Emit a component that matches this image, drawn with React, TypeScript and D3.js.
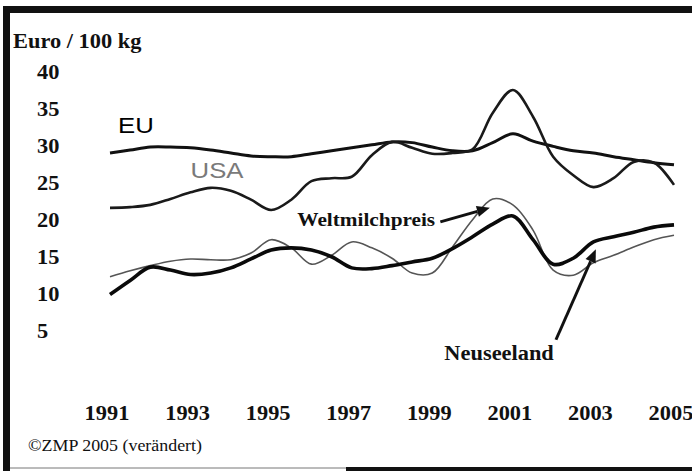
import * as d3 from "d3";

// half-year sampling points
const YEARS = [
  1991, 1991.5, 1992, 1992.5, 1993, 1993.5, 1994, 1994.5, 1995, 1995.5,
  1996, 1996.5, 1997, 1997.5, 1998, 1998.5, 1999, 1999.5, 2000, 2000.5,
  2001, 2001.5, 2002, 2002.5, 2003, 2003.5, 2004, 2004.5, 2005,
];

// Euro / 100 kg
const EU = [
  29.0, 29.4, 29.8, 29.8, 29.7, 29.4, 29.0, 28.6, 28.5, 28.5,
  28.9, 29.3, 29.7, 30.1, 30.5, 30.4, 29.8, 29.3, 29.3, 30.4,
  31.6, 30.6, 29.9, 29.3, 29.0, 28.5, 28.1, 27.7, 27.4,
];
const USA = [
  21.6, 21.7, 22.0, 22.8, 23.7, 24.3, 23.9, 22.7, 21.3, 22.7,
  25.2, 25.6, 25.8, 28.7, 30.5, 29.7, 28.9, 29.0, 29.5, 34.4,
  37.5, 33.9, 28.5, 26.0, 24.4, 25.6, 27.8, 27.7, 24.7,
];
const WELTMILCHPREIS = [
  12.3, 13.1, 13.8, 14.4, 14.7, 14.6, 14.6, 15.5, 17.3, 16.2,
  14.0, 15.2, 17.0, 16.2, 14.8, 12.8, 12.8, 16.3, 20.0, 22.8,
  22.0, 18.6, 13.2, 12.5, 14.2, 15.2, 16.3, 17.3, 17.9,
];
const NEUSEELAND = [
  9.9, 11.8, 13.6, 13.2, 12.6, 12.8, 13.5, 14.7, 15.9, 16.2,
  15.9, 15.0, 13.5, 13.4, 13.8, 14.3, 14.8, 16.1, 17.7, 19.4,
  20.5, 17.3, 14.0, 14.8, 17.0, 17.7, 18.3, 19.0, 19.3,
];

const Y_TICKS = [40, 35, 30, 25, 20, 15, 10, 5];
const X_TICKS = [1991, 1993, 1995, 1997, 1999, 2001, 2003, 2005];

const W = 692;
const H = 471;
const SX = 1.12; // the scan is a bit stretched sideways
const SERIF = "'Liberation Serif', 'Times New Roman', serif";
const SANS = "'Liberation Sans', Arial, sans-serif";

const x = d3.scaleLinear().domain([1991, 2005]).range([110, 674]);
const y = d3.scaleLinear().domain([0, 40]).range([367.9, 71.5]);

const line = d3
  .line<number>()
  .x((_, i) => x(YEARS[i]))
  .y((d) => y(d))
  .curve(d3.curveCatmullRom.alpha(0.5));

function Txt(props: {
  x: number;
  y: number;
  size: number;
  anchor?: string;
  weight?: string;
  family?: string;
  fill?: string;
  children: string;
}) {
  return (
    <text
      transform={`translate(${props.x},${props.y}) scale(${SX},1)`}
      fontSize={props.size}
      fontFamily={props.family ?? SERIF}
      fontWeight={props.weight ?? "bold"}
      textAnchor={props.anchor ?? "start"}
      fill={props.fill ?? "#111"}
    >
      {props.children}
    </text>
  );
}

function Arrow({ x1, y1, x2, y2 }: { x1: number; y1: number; x2: number; y2: number }) {
  const a = Math.atan2(y2 - y1, x2 - x1);
  const len = 13;
  const wid = 5.5;
  const bx = x2 - len * Math.cos(a);
  const by = y2 - len * Math.sin(a);
  const px = -Math.sin(a) * wid;
  const py = Math.cos(a) * wid;
  return (
    <g>
      <line x1={x1} y1={y1} x2={bx} y2={by} stroke="#111" strokeWidth={3} />
      <path d={`M${x2},${y2}L${bx + px},${by + py}L${bx - px},${by - py}Z`} fill="#111" />
    </g>
  );
}

export default function App() {
  return (
    <svg
      width={W}
      height={H}
      viewBox={`0 0 ${W} ${H}`}
      style={{ position: "absolute", left: 0, top: 0, background: "#fff" }}
    >
      <rect width={W} height={H} fill="#fff" />

      {/* frame */}
      <rect x={3} y={6} width={W - 3} height={7} fill="#111" />
      <rect x={3} y={6} width={7} height={H - 6} fill="#111" />
      <line x1={10} y1={468} x2={346} y2={468} stroke="#777" strokeWidth={1} />
      <rect x={346} y={467} width={W - 346} height={4} fill="#111" />

      <Txt x={13} y={48} size={20}>Euro / 100 kg</Txt>

      {Y_TICKS.map((t) => (
        <Txt key={t} x={37} y={y(t) + 7} size={20}>
          {String(t)}
        </Txt>
      ))}

      {X_TICKS.map((t) => (
        <Txt key={t} x={x(t) - 3} y={420} size={20} anchor="middle">
          {String(t)}
        </Txt>
      ))}

      <path d={line(EU) ?? ""} fill="none" stroke="#111" strokeWidth={3} />
      <path d={line(USA) ?? ""} fill="none" stroke="#1a1a1a" strokeWidth={2.6} />
      <path d={line(WELTMILCHPREIS) ?? ""} fill="none" stroke="#555" strokeWidth={1.6} />
      <path d={line(NEUSEELAND) ?? ""} fill="none" stroke="#0a0a0a" strokeWidth={3.6} />

      <Txt x={x(1991.2)} y={y(31.7)} size={23} family={SANS} weight="normal" fill="#000">
        EU
      </Txt>
      <Txt x={x(1993)} y={y(25.6)} size={23} family={SANS} weight="normal" fill="#7a7a7a">
        USA
      </Txt>

      <Txt x={x(1995.65)} y={y(19.1)} size={19}>Weltmilchpreis</Txt>
      <Arrow x1={x(1999.2)} y1={y(19.7)} x2={x(2000.43)} y2={y(21.6)} />

      <Txt x={x(1999.3)} y={y(1.05)} size={20}>Neuseeland</Txt>
      <Arrow x1={x(2002.07)} y1={y(3.8)} x2={x(2003.06)} y2={y(16.0)} />

      <Txt x={28} y={451} size={16} weight="normal">
        ©ZMP 2005 (verändert)
      </Txt>
    </svg>
  );
}
